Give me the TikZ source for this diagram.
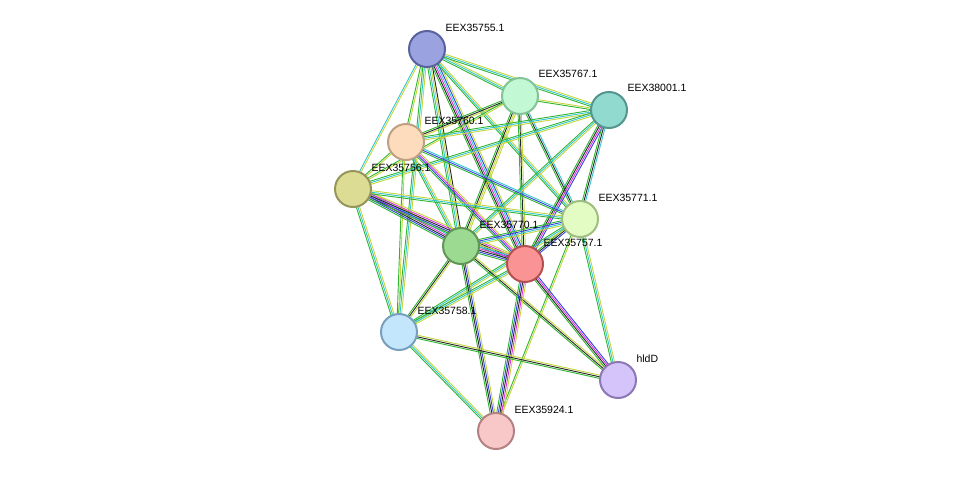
\documentclass[tikz,border=0pt]{standalone}
\usepackage{fontspec}
\setmainfont{Liberation Sans}
\usetikzlibrary{calc}
\definecolor{sg}{HTML}{2FB52F}
\definecolor{sb}{HTML}{3344DD}
\definecolor{sk}{HTML}{262626}
\definecolor{sm}{HTML}{DD33DD}
\definecolor{sc}{HTML}{33C6D0}
\definecolor{sy}{HTML}{C4D63C}
\newcommand\edg[3]{\foreach \c [count=\i] in {#3}{%
  \pgfmathsetmacro\o{(\i-2.5)*1.6}%
  \draw[\c,line width=0.9pt] ($(#1)!\o pt!90:(#2)$) -- ($(#2)!\o pt!-90:(#1)$);}}
\tikzset{pn/.style={circle,minimum size=36pt,inner sep=0pt,line width=2pt},
 lb/.style={font=\fontsize{10.5}{12}\selectfont,anchor=west}}
\begin{document}
\begin{tikzpicture}[x=1pt,y=-1pt]
\useasboundingbox (0,0) rectangle (976,477);
\coordinate (A) at (427,49);
\coordinate (B) at (520,96);
\coordinate (C) at (609,110);
\coordinate (D) at (406,142);
\coordinate (E) at (353,189);
\coordinate (F) at (580,219);
\coordinate (G) at (461,246);
\coordinate (H) at (525,264);
\coordinate (I) at (399,332);
\coordinate (J) at (618,380);
\coordinate (K) at (496,431);
% edges
\edg{A}{B}{sg,sc,sy}
\edg{A}{C}{sg,sc,sy}
\edg{A}{D}{sg,sy}
\edg{A}{E}{sc,sy}
\edg{A}{G}{sg,sc,sy,sk}
\edg{A}{H}{sg,sk,sm,sc,sb,sy}
\edg{A}{F}{sg,sc,sy}
\edg{A}{I}{sg,sc,sy}
\edg{B}{C}{sg,sy}
\edg{B}{D}{sg,sk,sy}
\edg{B}{E}{sg,sy}
\edg{B}{G}{sg,sk,sy,sy}
\edg{B}{H}{sg,sk,sy}
\edg{B}{F}{sg,sk,sc}
\edg{C}{D}{sg,sc,sy}
\edg{C}{E}{sg,sc,sy}
\edg{C}{G}{sg,sc,sy}
\edg{C}{H}{sg,sk,sm,sb}
\edg{C}{F}{sg,sk,sc}
\edg{D}{G}{sg,sc,sy}
\edg{D}{H}{sg,sb,sm,sy}
\edg{D}{F}{sg,sb,sc}
\edg{D}{I}{sg,sy}
\edg{E}{G}{sg,sb,sk,sm,sc,sy}
\edg{E}{H}{sg,sb,sk,sm,sy}
\edg{E}{F}{sg,sc,sy}
\edg{E}{I}{sg,sc,sy}
\edg{F}{G}{sg,sb,sc,sy}
\edg{F}{H}{sg,sk,sb}
\edg{F}{I}{sg,sc,sy}
\edg{F}{J}{sg,sc,sy}
\edg{F}{K}{sg,sy}
\edg{G}{H}{sg,sb,sk,sm,sc,sy}
\edg{G}{I}{sg,sk,sy}
\edg{G}{J}{sg,sk,sy}
\edg{G}{K}{sg,sk,sb,sy}
\edg{H}{I}{sg,sc,sy}
\edg{H}{J}{sg,sk,sm,sb}
\edg{H}{K}{sg,sb,sk,sm,sy}
\edg{I}{J}{sg,sk,sy}
\edg{I}{K}{sg,sc,sy}
\edg{D}{E}{sg,sy}
% nodes
\node[pn,fill={rgb,255:red,154;green,163;blue,224},draw={rgb,255:red,88;green,99;blue,160}] (nA) at (A) {};
\node[pn,fill={rgb,255:red,194;green,248;blue,212},draw={rgb,255:red,130;green,196;blue,152}] (nB) at (B) {};
\node[pn,fill={rgb,255:red,144;green,218;blue,208},draw={rgb,255:red,84;green,150;blue,142}] (nC) at (C) {};
\node[pn,fill={rgb,255:red,252;green,220;blue,188},draw={rgb,255:red,190;green,160;blue,130}] (nD) at (D) {};
\node[pn,fill={rgb,255:red,220;green,220;blue,148},draw={rgb,255:red,150;green,150;blue,90}] (nE) at (E) {};
\node[pn,fill={rgb,255:red,226;green,252;blue,196},draw={rgb,255:red,160;green,190;blue,130}] (nF) at (F) {};
\node[pn,fill={rgb,255:red,156;green,218;blue,146},draw={rgb,255:red,96;green,150;blue,86}] (nG) at (G) {};
\node[pn,fill={rgb,255:red,250;green,148;blue,148},draw={rgb,255:red,180;green,80;blue,80}] (nH) at (H) {};
\node[pn,fill={rgb,255:red,196;green,230;blue,252},draw={rgb,255:red,120;green,160;blue,190}] (nI) at (I) {};
\node[pn,fill={rgb,255:red,212;green,196;blue,250},draw={rgb,255:red,140;green,120;blue,180}] (nJ) at (J) {};
\node[pn,fill={rgb,255:red,248;green,200;blue,200},draw={rgb,255:red,180;green,130;blue,130}] (nK) at (K) {};
% labels
\node[lb] (lA) at ($(A)+(15,-21)$) {EEX35755.1};
\node[lb] (lB) at ($(B)+(15,-22)$) {EEX35767.1};
\node[lb] (lC) at ($(C)+(15,-22)$) {EEX38001.1};
\node[lb] (lD) at ($(D)+(15,-21)$) {EEX35760.1};
\node[lb] (lE) at ($(E)+(15,-21)$) {EEX35756.1};
\node[lb] (lF) at ($(F)+(15,-21)$) {EEX35771.1};
\node[lb] (lG) at ($(G)+(15,-21)$) {EEX35770.1};
\node[lb] (lH) at ($(H)+(15,-21)$) {EEX35757.1};
\node[lb] (lI) at ($(I)+(15,-21)$) {EEX35758.1};
\node[lb] (lJ) at ($(J)+(15,-21)$) {hldD};
\node[lb] (lK) at ($(K)+(15,-21)$) {EEX35924.1};
\end{tikzpicture}
\end{document}
